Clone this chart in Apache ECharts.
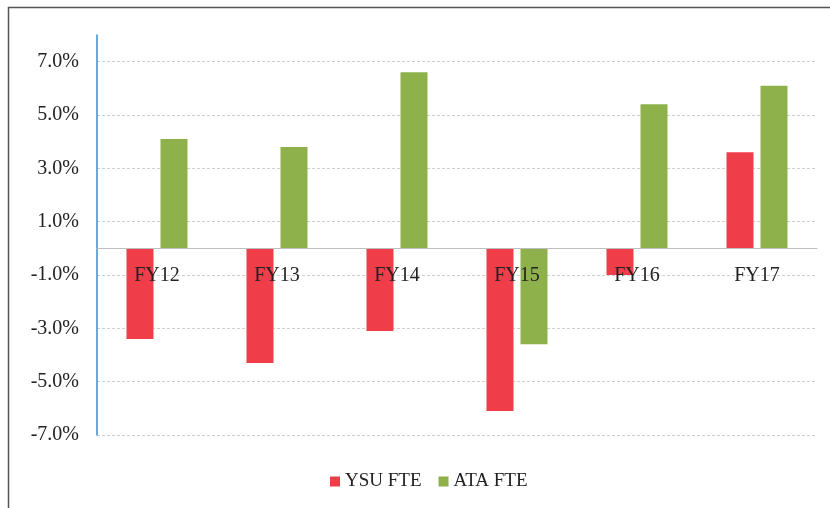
<!DOCTYPE html>
<html>
<head>
<meta charset="utf-8">
<script src="https://cdn.jsdelivr.net/npm/echarts@6/dist/echarts.min.js"></script>
<style>
  html, body { margin: 0; padding: 0; background: #fff; }
  #chart { width: 830px; height: 508px; }
</style>
</head>
<body>
<div id="chart"></div>
<script>
// data
const years = ['FY12', 'FY13', 'FY14', 'FY15', 'FY16', 'FY17'];
const ysuFte = [-3.4, -4.3, -3.1, -6.1, -1.0, 3.6];
const ataFte = [4.1, 3.8, 6.6, -3.6, 5.4, 6.1];
const yTicks = [-7, -5, -3, -1, 1, 3, 5, 7];

const font = '"Liberation Serif", "DejaVu Serif", serif';

const chart = echarts.init(document.getElementById('chart'));
chart.setOption({
    animation: false,
    textStyle: { fontFamily: font },
    graphic: [{
        type: 'rect',
        shape: { x: 8.5, y: 7.5, width: 840, height: 520 },
        style: { fill: 'none', stroke: '#555', lineWidth: 1.5 }
    }],
    grid: { left: 97, right: 13, top: 35, bottom: 73 },
    legend: {
        bottom: 12,
        left: 325,
        itemWidth: 10,
        itemHeight: 10,
        itemGap: 17,
        icon: 'rect',
        textStyle: { fontFamily: font, fontSize: 19, color: '#222' },
        data: ['YSU FTE', 'ATA FTE']
    },
    xAxis: {
        type: 'category',
        data: years,
        z: 5,
        axisLine: { onZero: true, lineStyle: { color: '#bdbdbd', width: 1 } },
        axisTick: { show: false },
        // labels sit just under the zero line, over the bars, as in the source
        axisLabel: { margin: -169, fontSize: 20, color: '#222', fontFamily: font }
    },
    yAxis: {
        type: 'value',
        min: -7,
        max: 8,
        axisLine: { show: true, lineStyle: { color: '#3a8dd2', width: 1.5 } },
        axisTick: { show: false, customValues: yTicks },
        axisLabel: {
            customValues: yTicks,
            margin: 18,
            fontSize: 20,
            color: '#222',
            fontFamily: font,
            formatter: v => v.toFixed(1) + '%'
        },
        splitLine: { lineStyle: { color: '#cfcfcf', type: [3, 2] } }
    },
    series: [
        {
            name: 'YSU FTE',
            type: 'bar',
            data: ysuFte,
            barWidth: 27,
            barGap: '26%',
            itemStyle: { color: '#ef3e49' }
        },
        {
            name: 'ATA FTE',
            type: 'bar',
            data: ataFte,
            barWidth: 27,
            itemStyle: { color: '#8fb14c' }
        }
    ]
});
</script>
</body>
</html>
